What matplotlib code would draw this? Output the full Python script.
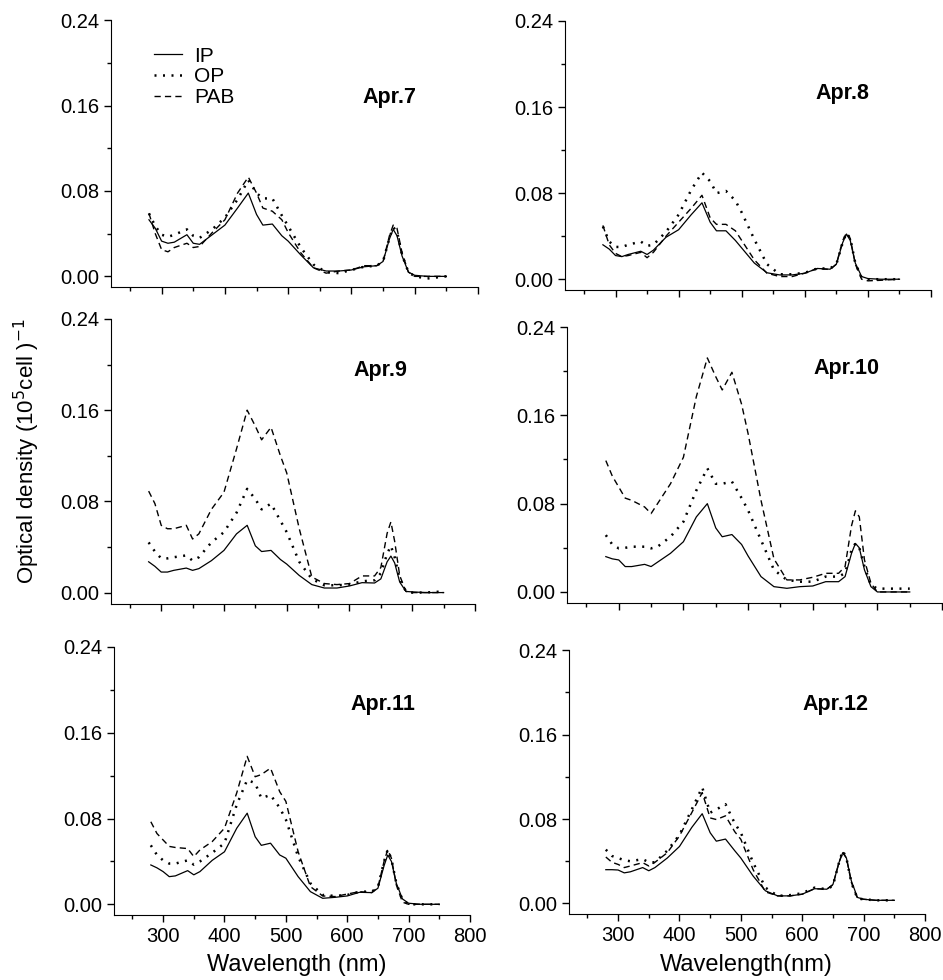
import matplotlib
matplotlib.use('Agg')
import matplotlib.pyplot as plt
from matplotlib.ticker import MultipleLocator
from matplotlib.lines import Line2D

plt.rcParams['font.family'] = ['Liberation Sans', 'DejaVu Sans']

# wavelength grid (nm)
wl = [280, 290, 300, 310, 320, 340, 350, 360, 380, 400, 420, 437, 450, 460, 475,
      490, 500, 520, 540, 560, 580, 600, 620, 640, 650, 660, 666, 672, 680, 690,
      700, 720, 750]

dates = ['Apr.7', 'Apr.8', 'Apr.9', 'Apr.10', 'Apr.11', 'Apr.12']

ip = [
    [0.053, 0.045, 0.033, 0.031, 0.032, 0.039, 0.031, 0.030, 0.039, 0.048, 0.064, 0.078, 0.058, 0.048, 0.049,
     0.038, 0.033, 0.020, 0.008, 0.005, 0.005, 0.006, 0.009, 0.010, 0.014, 0.035, 0.044, 0.038, 0.019, 0.004,
     0.001, 0.0, 0.0],
    [0.032, 0.028, 0.022, 0.021, 0.023, 0.026, 0.023, 0.027, 0.039, 0.046, 0.060, 0.071, 0.053, 0.045, 0.045,
     0.036, 0.029, 0.015, 0.006, 0.004, 0.004, 0.0056, 0.010, 0.0093, 0.014, 0.034, 0.042, 0.036, 0.015, 0.0025,
     0.0006, 0.0, 0.0],
    [0.027, 0.023, 0.018, 0.018, 0.0195, 0.0215, 0.0195, 0.021, 0.028, 0.037, 0.0515, 0.059, 0.041, 0.036, 0.037,
     0.029, 0.025, 0.015, 0.007, 0.004, 0.004, 0.0058, 0.0087, 0.0084, 0.012, 0.027, 0.032, 0.026, 0.0093, 0.001,
     0.0006, 0.0, 0.0],
    [0.032, 0.030, 0.029, 0.023, 0.023, 0.025, 0.023, 0.027, 0.035, 0.0455, 0.068, 0.080, 0.058, 0.050, 0.052,
     0.043, 0.0326, 0.0139, 0.0048, 0.0033, 0.0048, 0.0054, 0.0093, 0.0093, 0.0139, 0.035, 0.044, 0.040, 0.020, 0.0048,
     0.0, 0.0, 0.0],
    [0.0367, 0.034, 0.0305, 0.0258, 0.0265, 0.0314, 0.0275, 0.0305, 0.041, 0.049, 0.071, 0.085, 0.063, 0.055, 0.057,
     0.046, 0.043, 0.0258, 0.0118, 0.0056, 0.0065, 0.0078, 0.0112, 0.0109, 0.015, 0.036, 0.046, 0.040, 0.0196, 0.005,
     0.001, 0.0, 0.0],
    [0.032, 0.032, 0.0317, 0.029, 0.030, 0.034, 0.031, 0.034, 0.043, 0.054, 0.072, 0.085, 0.067, 0.059, 0.061,
     0.050, 0.043, 0.026, 0.012, 0.0072, 0.0072, 0.0088, 0.014, 0.0135, 0.018, 0.039, 0.048, 0.043, 0.0214, 0.0057,
     0.004, 0.003, 0.003],
]

op = [
    [0.059, 0.047, 0.039, 0.037, 0.039, 0.044, 0.038, 0.036, 0.044, 0.055, 0.072, 0.090, 0.078, 0.073, 0.073,
     0.057, 0.047, 0.027, 0.011, 0.004, 0.003, 0.006, 0.009, 0.010, 0.014, 0.036, 0.046, 0.042, 0.020, 0.004,
     0.0, -0.002, 0.0],
    [0.049, 0.035, 0.030, 0.030, 0.032, 0.035, 0.031, 0.032, 0.044, 0.060, 0.083, 0.099, 0.091, 0.080, 0.082,
     0.073, 0.062, 0.037, 0.014, 0.0046, 0.0046, 0.006, 0.010, 0.010, 0.014, 0.034, 0.043, 0.038, 0.015, 0.0015,
     0.0, 0.0, 0.0],
    [0.044, 0.036, 0.030, 0.030, 0.031, 0.0326, 0.028, 0.031, 0.044, 0.053, 0.070, 0.091, 0.082, 0.073, 0.078,
     0.063, 0.053, 0.027, 0.012, 0.0064, 0.0064, 0.007, 0.0099, 0.0108, 0.017, 0.034, 0.041, 0.031, 0.012, 0.001,
     0.0, 0.0, 0.001],
    [0.0515, 0.043, 0.0395, 0.040, 0.041, 0.041, 0.0395, 0.041, 0.050, 0.0636, 0.092, 0.112, 0.098, 0.098, 0.100,
     0.085, 0.074, 0.047, 0.020, 0.0109, 0.0093, 0.0093, 0.0139, 0.0139, 0.017, 0.038, 0.044, 0.040, 0.023, 0.0063,
     0.003, 0.003, 0.003],
    [0.055, 0.046, 0.041, 0.038, 0.038, 0.041, 0.037, 0.040, 0.048, 0.057, 0.093, 0.116, 0.113, 0.099, 0.102,
     0.090, 0.079, 0.0445, 0.0196, 0.0087, 0.0078, 0.0087, 0.0118, 0.0118, 0.016, 0.040, 0.051, 0.042, 0.0196, 0.004,
     0.0, 0.0, 0.0],
    [0.051, 0.045, 0.043, 0.041, 0.040, 0.042, 0.039, 0.039, 0.050, 0.065, 0.089, 0.110, 0.086, 0.089, 0.094,
     0.076, 0.067, 0.0387, 0.015, 0.0072, 0.0079, 0.0097, 0.015, 0.0135, 0.0167, 0.039, 0.050, 0.043, 0.0198, 0.0047,
     0.004, 0.003, 0.003],
]

pab = [
    [0.059, 0.040, 0.025, 0.023, 0.027, 0.031, 0.027, 0.028, 0.041, 0.053, 0.078, 0.093, 0.078, 0.064, 0.061,
     0.053, 0.041, 0.022, 0.008, 0.003, 0.005, 0.006, 0.010, 0.010, 0.014, 0.038, 0.048, 0.045, 0.022, 0.004,
     0.0, 0.0, 0.0],
    [0.050, 0.032, 0.024, 0.021, 0.022, 0.025, 0.020, 0.025, 0.040, 0.053, 0.066, 0.078, 0.057, 0.051, 0.051,
     0.045, 0.036, 0.018, 0.0056, 0.0025, 0.0025, 0.0056, 0.010, 0.009, 0.014, 0.036, 0.043, 0.038, 0.014, 0.0,
     -0.0015, -0.001, 0.0],
    [0.089, 0.078, 0.059, 0.056, 0.056, 0.059, 0.047, 0.0515, 0.073, 0.088, 0.126, 0.160, 0.146, 0.134, 0.145,
     0.120, 0.105, 0.056, 0.0137, 0.0079, 0.007, 0.0079, 0.0146, 0.0146, 0.022, 0.052, 0.062, 0.045, 0.015, 0.001,
     0.0, 0.0, 0.0],
    [0.119, 0.105, 0.095, 0.085, 0.083, 0.077, 0.071, 0.080, 0.098, 0.122, 0.177, 0.212, 0.195, 0.183, 0.199,
     0.170, 0.1435, 0.083, 0.030, 0.0109, 0.0109, 0.0133, 0.0169, 0.0169, 0.023, 0.060, 0.0735, 0.068, 0.029, 0.0078,
     0.0, 0.0, 0.0],
    [0.077, 0.066, 0.060, 0.054, 0.053, 0.052, 0.0445, 0.0507, 0.0585, 0.071, 0.104, 0.138, 0.119, 0.121, 0.127,
     0.105, 0.096, 0.049, 0.0165, 0.0078, 0.0072, 0.0096, 0.0118, 0.0109, 0.016, 0.040, 0.051, 0.043, 0.018, 0.002,
     0.0, 0.0, 0.0],
    [0.044, 0.039, 0.037, 0.034, 0.0355, 0.0387, 0.0355, 0.039, 0.048, 0.064, 0.086, 0.105, 0.081, 0.0795, 0.083,
     0.068, 0.0607, 0.032, 0.011, 0.0072, 0.0072, 0.0088, 0.014, 0.0135, 0.0176, 0.039, 0.049, 0.043, 0.020, 0.0047,
     0.004, 0.003, 0.003],
]

# axes boxes [left, bottom, width, height] in figure fraction
boxes = [
    [0.1177, 0.7071, 0.3892, 0.2724],
    [0.5992, 0.7041, 0.3881, 0.2745],
    [0.1177, 0.3837, 0.3860, 0.2908],
    [0.6013, 0.3847, 0.3977, 0.2816],
    [0.1209, 0.0663, 0.3775, 0.2735],
    [0.6034, 0.0673, 0.3775, 0.2694],
]
label_pos = [(0.76, 0.71), (0.757, 0.732), (0.739, 0.818), (0.744, 0.848), (0.756, 0.787), (0.748, 0.795)]

solid = dict(color='black', lw=0.9, ls='-')
dotted = dict(color='black', lw=1.8, ls=(0, (0.8, 2.6)))
dashed = dict(color='black', lw=1.0, ls=(0, (4.5, 3)))

fig = plt.figure(figsize=(9.43, 9.80), dpi=100)

for i in range(6):
    ax = fig.add_axes(boxes[i])
    ax.plot(wl, ip[i], **solid)
    ax.plot(wl, op[i], **dotted)
    ax.plot(wl, pab[i], **dashed)
    ax.set_xlim(220, 800)
    ax.set_ylim(-0.01, 0.24)
    ax.spines['top'].set_visible(False)
    ax.spines['right'].set_visible(False)
    ax.xaxis.set_major_locator(MultipleLocator(100))
    ax.xaxis.set_minor_locator(MultipleLocator(50))
    ax.yaxis.set_major_locator(MultipleLocator(0.08))
    ax.yaxis.set_minor_locator(MultipleLocator(0.04))
    ax.yaxis.set_major_formatter(plt.FormatStrFormatter('%.2f'))
    ax.tick_params(which='major', direction='out', length=5, width=1, labelsize=14.5)
    ax.tick_params(which='minor', direction='out', length=3, width=1)
    if i < 4:
        ax.tick_params(axis='x', labelbottom=False)
    ax.text(label_pos[i][0], label_pos[i][1], dates[i], transform=ax.transAxes,
            fontsize=15.5, fontweight='bold', ha='center', va='center')
    if i == 0:
        handles = [Line2D([], [], **solid), Line2D([], [], **dotted), Line2D([], [], **dashed)]
        ax.legend(handles, ['IP', 'OP', 'PAB'], loc='upper left', bbox_to_anchor=(0.09, 0.94),
                  frameon=False, fontsize=15, handlelength=1.3, handletextpad=0.6,
                  labelspacing=0.08, borderpad=0)

fig.text(0.028, 0.54, 'Optical density (10$^5$cell )$^{-1}$', rotation=90,
         fontsize=16, ha='center', va='center')
fig.text(297 / 943, 1 - 965 / 980, 'Wavelength (nm)', fontsize=17, ha='center', va='center')
fig.text(746 / 943, 1 - 965 / 980, 'Wavelength(nm)', fontsize=17, ha='center', va='center')

fig.savefig('out.png', dpi=100)
